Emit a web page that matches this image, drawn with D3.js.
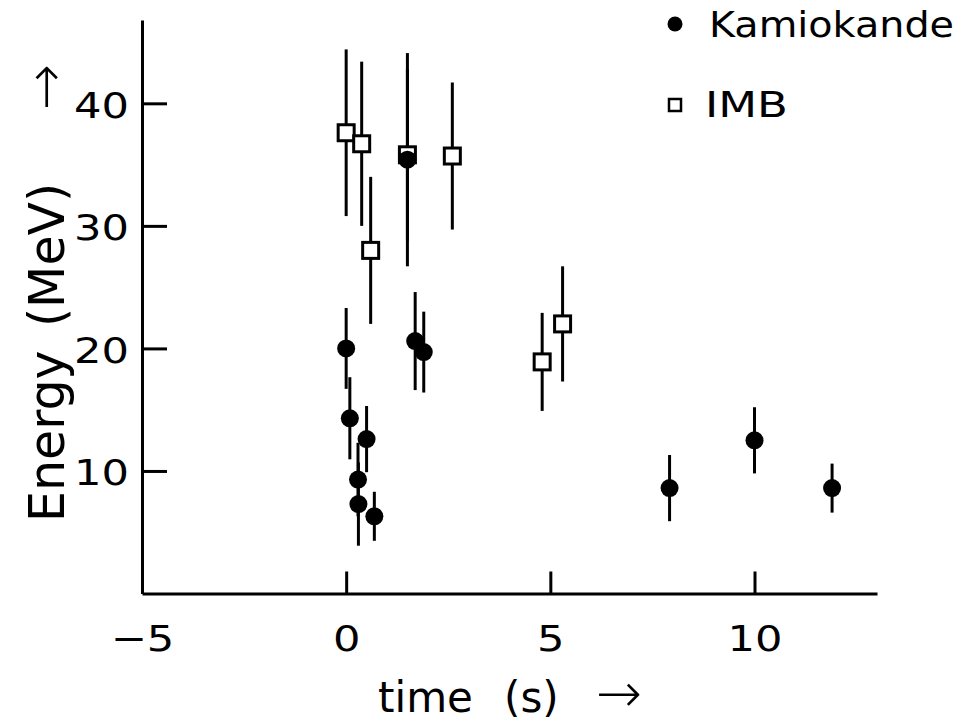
<!DOCTYPE html>
<meta charset="utf-8">
<style>
    body { margin: 0; background: #fff; }
    svg { display: block; font-family: "DejaVu Sans", sans-serif; }
    .axis path, .axis line { stroke: #000; stroke-width: 3px; }
    .axis text { font-size: 36px; fill: #000; font-family: "DejaVu Sans", sans-serif; }
    .err { stroke: #000; stroke-width: 3px; }
</style>
<svg width="973" height="724"></svg>
<script src="https://d3js.org/d3.v7.min.js"></script>
<script>
    // Kamiokande events: time (s), energy (MeV), error (MeV)
    var kamTime = [0, 0.09, 0.5, 0.29, 0.3, 0.69, 1.69, 1.9, 1.5, 7.92, 10.0, 11.9];
    var kamEnergy = [20.0, 14.3, 12.6, 9.3, 7.3, 6.3, 20.6, 19.7, 35.4, 8.6, 12.5, 8.6];
    var kamError = [3.3, 3.35, 2.7, 3.0, 3.4, 2.0, 4.0, 3.3, 8.7, 2.7, 2.7, 2.0];

    // IMB events
    var imbTime = [0, 0.38, 1.5, 2.6, 0.6, 4.8, 5.3];
    var imbEnergy = [37.6, 36.7, 35.8, 35.7, 28.0, 18.9, 22.0];
    var imbError = [6.8, 6.7, 7.0, 6.0, 6.0, 4.0, 4.7];

    var xTicks = [-5, 0, 5, 10];
    var yTicks = [10, 20, 30, 40];
    var legendNames = ["Kamiokande", "IMB"];
    var xTitle = ["time", "(s)", "\u2192"];
    var yTitle = ["Energy", "(MeV)", "\u2192"];

    var svg = d3.select("svg");

    var x = d3.scaleLinear().domain([-5, 13]).range([142, 877]);
    var y = d3.scaleLinear().domain([0, 46.8]).range([593.5, 20]);

    var kam = kamTime.map(function (t, i) {
        return { t: t, e: kamEnergy[i], err: kamError[i] };
    });
    var imb = imbTime.map(function (t, i) {
        return { t: t, e: imbEnergy[i], err: imbError[i] };
    });

    // the original lettering is a bit wider than DejaVu
    function widen(g) {
        g.selectAll("text").each(function () {
            var t = d3.select(this);
            t.attr("x", (+t.attr("x") || 0) / 1.2).attr("transform", "scale(1.2,1)");
        });
    }

    // axes, ticks pointing inward
    svg.append("g")
        .attr("class", "axis")
        .attr("transform", "translate(0," + y(0) + ")")
        .call(d3.axisBottom(x).tickValues(xTicks).tickSize(-22).tickSizeOuter(0).tickPadding(32))
        .call(widen);

    svg.append("g")
        .attr("class", "axis")
        .attr("transform", "translate(" + x(-5) + ",0)")
        .call(d3.axisLeft(y).tickValues(yTicks).tickSize(-25).tickSizeOuter(0).tickPadding(13))
        .call(function (g) { g.selectAll("text").attr("dy", "0.38em"); })
        .call(widen);

    // error bars
    var all = imb.concat(kam);
    svg.append("g").selectAll("line")
        .data(all)
        .enter().append("line")
        .attr("class", "err")
        .attr("x1", d => x(d.t))
        .attr("x2", d => x(d.t))
        .attr("y1", d => y(d.e + d.err))
        .attr("y2", d => y(d.e - d.err));

    // IMB squares
    svg.append("g").selectAll("rect")
        .data(imb)
        .enter().append("rect")
        .attr("x", d => x(d.t) - 8)
        .attr("y", d => y(d.e) - 8)
        .attr("width", 16)
        .attr("height", 16)
        .attr("fill", "#fff")
        .attr("stroke", "#000")
        .attr("stroke-width", 3);

    // Kamiokande dots
    svg.append("g").selectAll("circle")
        .data(kam)
        .enter().append("circle")
        .attr("cx", d => x(d.t))
        .attr("cy", d => y(d.e))
        .attr("r", 9)
        .attr("fill", "#000");

    // legend
    var legend = svg.append("g");
    legend.append("circle").attr("cx", 675).attr("cy", 24).attr("r", 7.5).attr("fill", "#000");
    legend.append("rect").attr("x", 669).attr("y", 99).attr("width", 12).attr("height", 12)
        .attr("fill", "#fff").attr("stroke", "#000").attr("stroke-width", 2.5);
    legend.selectAll("text")
        .data(legendNames)
        .enter().append("text")
        .attr("x", (d, i) => i ? 705 : 709)
        .attr("y", (d, i) => 37 + i * 80)
        .attr("font-size", 36)
        .attr("textLength", (d, i) => i ? 83 : 245)
        .attr("lengthAdjust", "spacingAndGlyphs")
        .text(d => d);

    // axis titles, words spaced apart like the original
    svg.append("text")
        .attr("y", 712)
        .attr("font-size", 42)
        .selectAll("tspan")
        .data(xTitle)
        .enter().append("tspan")
        .attr("x", (d, i) => [378, 504, 596][i])
        .attr("font-size", (d, i) => i == 2 ? 55 : 42)
        .attr("font-weight", (d, i) => i == 2 ? 300 : null)
        .text(d => d);

    svg.append("text")
        .attr("transform", "translate(64,0) rotate(-90)")
        .attr("font-size", 49)
        .selectAll("tspan")
        .data(yTitle)
        .enter().append("tspan")
        .attr("x", (d, i) => -[522, 327, 110][i])
        .attr("font-size", (d, i) => i == 2 ? 55 : 49)
        .attr("font-weight", (d, i) => i == 2 ? 300 : null)
        .text(d => d);
</script>
